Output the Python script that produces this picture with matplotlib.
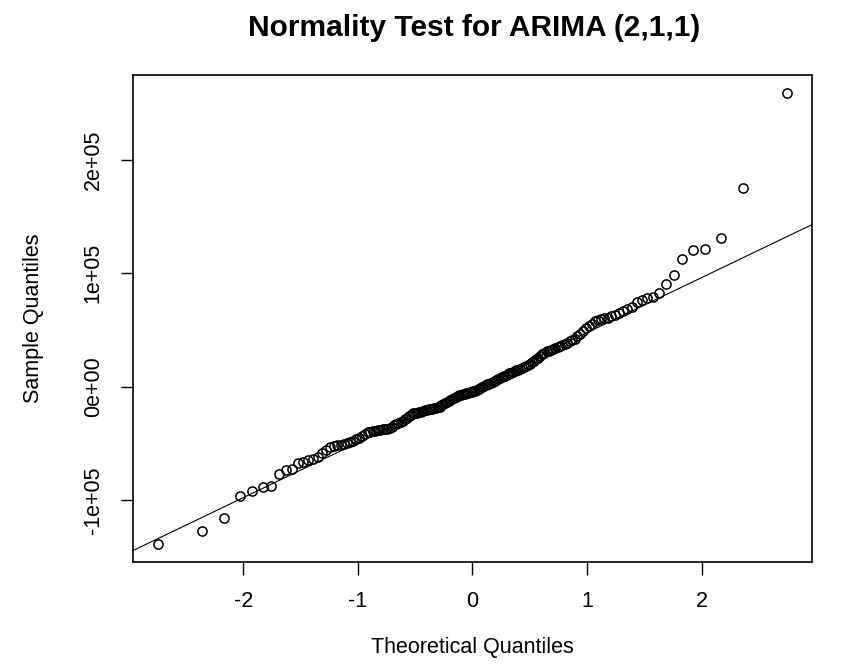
import numpy as np
import matplotlib
matplotlib.use("Agg")
import matplotlib.pyplot as plt
from statistics import NormalDist

# Sorted ARIMA(2,1,1) residuals (in thousands)
residuals_k = [
    -138.5, -127.0, -115.5, -96.4, -92.0, -88.4, -87.5, -77.2, -73.0, -72.1,
    -66.8, -66.3, -64.6, -63.3, -61.9, -58.3, -55.4, -53.3, -52.4, -51.7,
    -50.9, -50.2, -49.5, -48.7, -47.6, -46.3, -45.1, -43.7, -42.0, -40.2,
    -39.5, -39.1, -38.6, -38.2, -37.9, -37.6, -37.2, -36.9, -36.0, -35.1,
    -34.1, -33.2, -32.2, -31.0, -29.8, -28.6, -27.3, -26.1, -24.8, -23.5,
    -23.2, -22.8, -22.5, -22.1, -21.5, -20.9, -20.4, -20.0, -19.6, -19.2,
    -18.8, -18.4, -18.0, -17.5, -16.5, -15.4, -14.4, -13.4, -12.3, -11.4,
    -10.6, -9.8, -9.1, -8.3, -7.5, -7.0, -6.6, -6.2, -5.8, -5.4,
    -5.0, -4.6, -4.0, -3.3, -2.5, -1.7, -1.0, -0.2, 0.5, 1.3,
    2.0, 2.8, 3.6, 4.3, 5.1, 5.9, 6.6, 7.4, 8.2, 9.1,
    9.9, 10.8, 11.7, 12.5, 13.4, 13.9, 14.5, 15.0, 15.5, 16.1,
    17.0, 18.1, 19.2, 20.3, 21.4, 22.7, 24.1, 25.6, 27.0, 28.5,
    29.9, 31.1, 31.8, 32.5, 33.1, 33.8, 34.7, 35.7, 36.7, 37.7,
    38.7, 39.9, 41.2, 42.4, 44.7, 46.9, 49.2, 51.4, 53.6, 55.7,
    57.9, 59.2, 59.7, 60.2, 60.8, 62.0, 63.2, 64.9, 66.6, 68.4,
    70.5, 74.5, 76.5, 78.0, 79.5, 82.2, 90.5, 98.8, 112.6, 120.2,
    121.7, 131.5, 174.8, 258.8,
]

x_ticks = [-2, -1, 0, 1, 2]
x_tick_labels = ["-2", "-1", "0", "1", "2"]
y_ticks = [-1e5, 0, 1e5, 2e5]
y_tick_labels = ["-1e+05", "0e+00", "1e+05", "2e+05"]

title = "Normality Test for ARIMA (2,1,1)"
xlabel = "Theoretical Quantiles"
ylabel = "Sample Quantiles"

sample = np.sort(np.array(residuals_k) * 1000.0)
n = len(sample)
nd = NormalDist()
probs = (np.arange(1, n + 1) - 0.5) / n
theo = np.array([nd.inv_cdf(p) for p in probs])

# qqline through the quartiles (as R does)
yq = np.quantile(sample, [0.25, 0.75])
xq = np.array([nd.inv_cdf(0.25), nd.inv_cdf(0.75)])
slope = (yq[1] - yq[0]) / (xq[1] - xq[0])
intercept = yq[0] - slope * xq[0]

plt.rcParams["font.family"] = ["Liberation Sans", "DejaVu Sans"]

W, H = 841, 672
fig = plt.figure(figsize=(W / 100, H / 100), dpi=100)
L, R, T, B = 133, 812, 75, 562
ax = fig.add_axes([L / W, 1 - B / H, (R - L) / W, (B - T) / H])

ax.plot(theo, sample, linestyle="none", marker="o", markersize=6.6,
        markerfacecolor="none", markeredgecolor="black", markeredgewidth=1.1)
ax.axline((0, intercept), slope=slope, color="black", linewidth=0.8)

xr = theo.max() - theo.min()
yr = sample.max() - sample.min()
ax.set_xlim(theo.min() - 0.04 * xr, theo.max() + 0.04 * xr)
ax.set_ylim(sample.min() - 0.04 * yr, sample.max() + 0.04 * yr)

ax.set_xticks(x_ticks)
ax.set_xticklabels(x_tick_labels)
ax.set_yticks(y_ticks)
ax.set_yticklabels(y_tick_labels, rotation=90, va="center")

ax.tick_params(axis="both", direction="out", length=9, width=1.0,
               labelsize=15.5, colors="black")
ax.tick_params(axis="x", pad=12)
ax.tick_params(axis="y", pad=12)

for s in ax.spines.values():
    s.set_linewidth(1.2)
    s.set_color("black")

ax.set_xlabel(xlabel, fontsize=15.5)
ax.set_ylabel(ylabel, fontsize=15.5)
ax.xaxis.set_label_coords(0.5, -(648 - B) / (B - T), transform=ax.transAxes)
ax.yaxis.set_label_coords(-(L - 33) / (R - L), 0.5, transform=ax.transAxes)
ax.xaxis.label.set_va("center")
ax.yaxis.label.set_va("center")

fig.text(474 / W, 1 - 28 / H, title, ha="center", va="center",
         fontsize=21.5, fontweight="bold")

fig.savefig("out.png", dpi=100, facecolor="white")
